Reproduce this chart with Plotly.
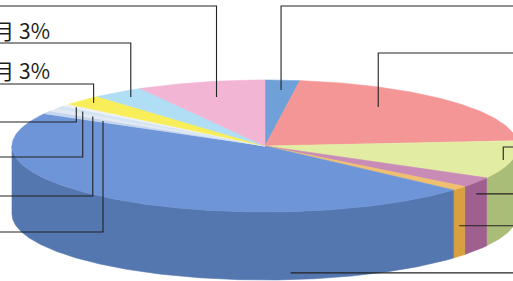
import numpy as np
import plotly.graph_objects as go

# ---- data (clockwise from 12 o'clock) ----
labels = ["1ヶ月", "2ヶ月", "3ヶ月", "4ヶ月", "5ヶ月", "6ヶ月", "7ヶ月",
          "8ヶ月", "9ヶ月", "10ヶ月", "11ヶ月", "12ヶ月", "13ヶ月"]
values = [2.2, 21.4, 9.4, 2.5, 1.1, 46.5, 0.72, 0.75, 0.75, 0.53, 2.6, 3.3, 8.2]
top_colors = ["#6fa0d8", "#f59696", "#e2eda3", "#c88cb6", "#f0c070", "#6e95d8",
              "#c5d6ee", "#e4eaf5", "#d4e4f2", "#eef2f8", "#f8ee5a", "#b0def5", "#f2b6d4"]
side_colors = ["#5580b8", "#d07070", "#a9bd79", "#a0608f", "#d9a040", "#5577b0",
               "#9fb3d4", "#c0c8d8", "#b0c4d8", "#ccd4e0", "#d8cc40", "#88bcd8", "#d090b0"]

# ---- geometry / style ----
W, H = 513, 281
CX, CY, RX, RY, DEPTH = 265, 146, 253, 66, 68
START = 90

# leader lines and labels (layout)
LEADERS = [
    dict(i=0, kind="top", t=0.54, r=0.85, ly=6, side="right"),
    dict(i=1, kind="top", t=0.38, r=0.74, ly=53, side="right"),
    dict(i=2, kind="top", t=0.52, r=0.965, ly=147, side="right"),
    dict(i=3, kind="side", t=0.5, d=0.17, side="right"),
    dict(i=4, kind="side", t=0.5, d=0.55, side="right"),
    dict(i=5, kind="side", t=0.253, d=0.9, side="right"),
    dict(i=6, kind="top", t=0.5, r=0.744, ly=232, side="left"),
    dict(i=7, kind="top", t=0.5, r=0.814, ly=196, side="left"),
    dict(i=8, kind="top", t=0.5, r=0.89, ly=157, side="left"),
    dict(i=9, kind="top", t=0.5, r=0.95, ly=122, side="left"),
    dict(i=10, kind="top", t=0.5, r=0.94, ly=84, side="left", tx=52, ty=70),
    dict(i=11, kind="top", t=0.5, r=0.914, ly=43, side="left", tx=52, ty=30),
    dict(i=12, kind="top", t=0.51, r=0.767, ly=6, side="left", tx=30, ty=-9.5),
]

total = float(sum(values))
spans = np.array(values) / total * 360.0
starts = START - np.concatenate([[0.0], np.cumsum(spans)[:-1]])
ends = starts - spans


def rim(a_deg, r=1.0, dz=0.0):
    a = np.radians(a_deg)
    return CX + r * RX * np.cos(a), CY - r * RY * np.sin(a) + dz


fig = go.Figure()

# side faces (front half: angles 0 .. -180)
for i in range(len(values)):
    hi = min(starts[i], 0.0)
    lo = max(ends[i], -180.0)
    if hi <= lo:
        continue
    ang = np.linspace(hi, lo, max(4, int((hi - lo) * 2)))
    xt, yt = rim(ang)
    xb, yb = rim(ang[::-1], dz=DEPTH)
    fig.add_trace(go.Scatter(
        x=np.concatenate([xt, xb, xt[:1]]), y=np.concatenate([yt, yb, yt[:1]]),
        mode="lines", fill="toself", fillcolor=side_colors[i],
        line=dict(color=side_colors[i], width=0.6), hoverinfo="skip", showlegend=False))

# top faces
for i in range(len(values)):
    ang = np.linspace(starts[i], ends[i], max(4, int(spans[i] * 2)))
    xr, yr = rim(ang)
    fig.add_trace(go.Scatter(
        x=np.concatenate([[CX], xr, [CX]]), y=np.concatenate([[CY], yr, [CY]]),
        mode="lines", fill="toself", fillcolor=top_colors[i],
        line=dict(color=top_colors[i], width=0.6), hoverinfo="skip", showlegend=False))

# leader lines + labels
annotations = []
for L in LEADERS:
    i = L["i"]
    a = starts[i] - L["t"] * spans[i]
    if L["kind"] == "top":
        ax, ay = rim(a, r=L["r"])
        ly = L["ly"]
        xs = [ax, ax, (-20 if L["side"] == "left" else W + 20)]
        ys = [ay, ly, ly]
    else:
        ax, ay = rim(a, dz=L["d"] * DEPTH)
        xs = [ax, W + 20]
        ys = [ay, ay]
    fig.add_trace(go.Scatter(x=xs, y=ys, mode="lines",
                             line=dict(color="#222222", width=1.1),
                             hoverinfo="skip", showlegend=False))
    if "tx" in L:
        pct = values[i] / total * 100
        annotations.append(dict(
            x=L["tx"] / W, y=1 - L["ty"] / H, xref="paper", yref="paper",
            showarrow=False, xanchor="right", yanchor="middle",
            text=f"{labels[i]} {pct:.0f}%",
            font=dict(family="Noto Sans CJK JP", size=21, color="#1e1e1e")))

fig.update_layout(
    width=W, height=H, margin=dict(l=0, r=0, t=0, b=0),
    paper_bgcolor="white", plot_bgcolor="white",
    xaxis=dict(range=[0, W], visible=False, fixedrange=True),
    yaxis=dict(range=[H, 0], visible=False, fixedrange=True),
    annotations=annotations, showlegend=False)

fig.write_html("out.html", config={"displayModeBar": False},
               post_script="document.body.style.margin='0';document.body.style.overflow='hidden';")
